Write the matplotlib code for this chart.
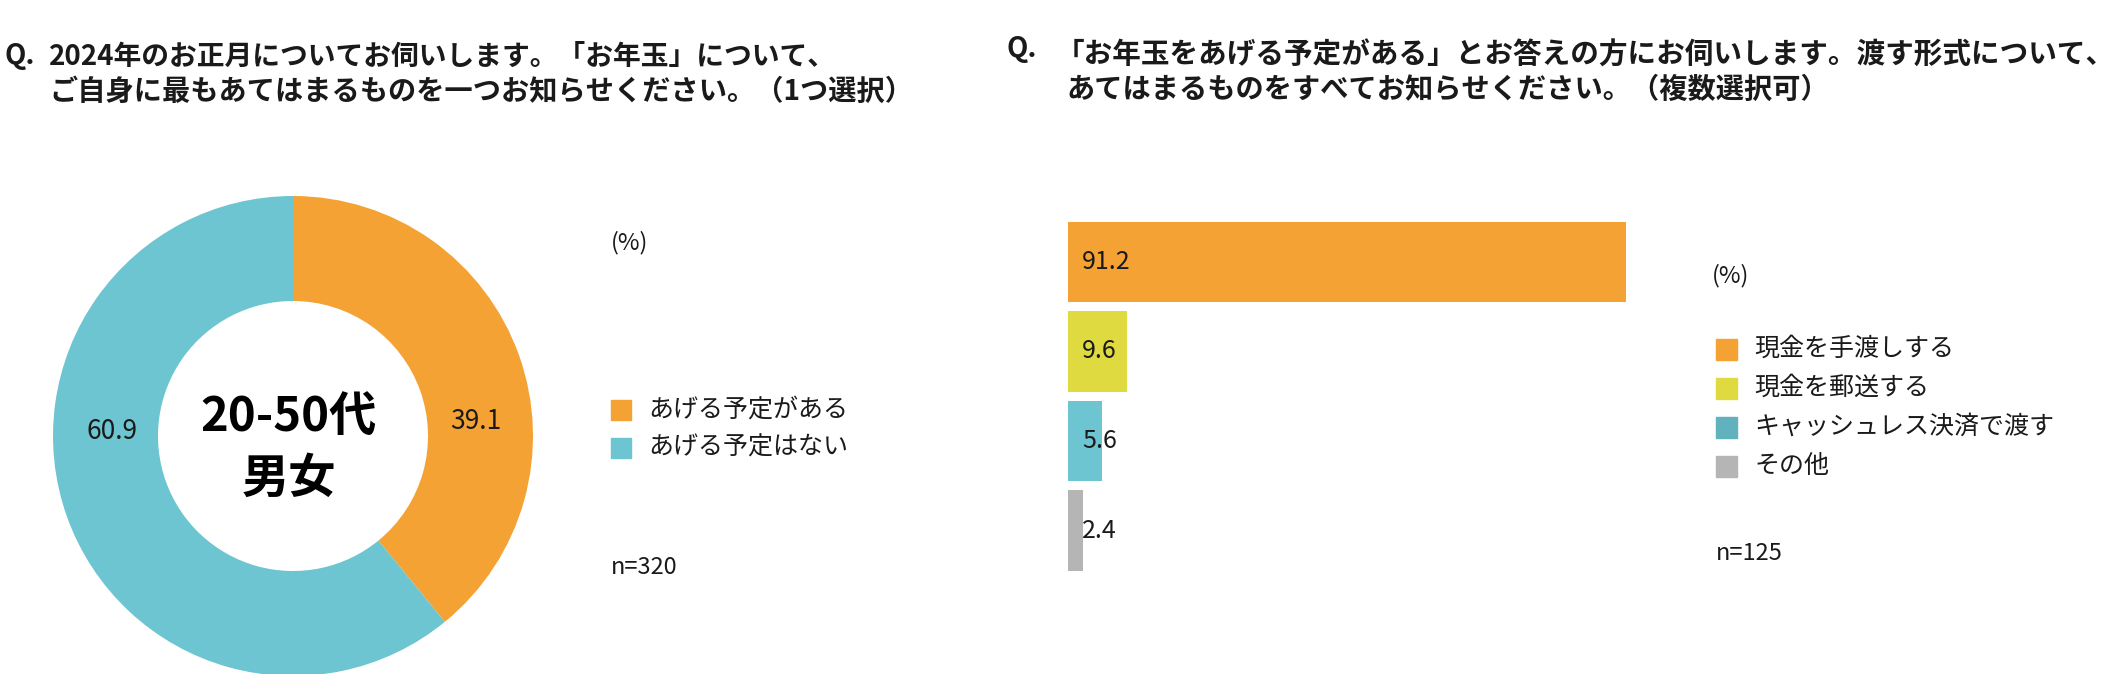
import matplotlib.pyplot as plt
from matplotlib.patches import Rectangle

plt.rcParams['font.family'] = ['Noto Sans CJK JP', 'DejaVu Sans']
TXT = '#1a1a1a'

# ---- data ----
donut_labels = ['あげる予定がある', 'あげる予定はない']
donut_values = [39.1, 60.9]
donut_colors = ['#f4a233', '#6cc5d0']
n_left = 'n=320'

bar_labels = ['現金を手渡しする', '現金を郵送する', 'キャッシュレス決済で渡す', 'その他']
bar_values = [91.2, 9.6, 5.6, 2.4]
bar_colors = ['#f4a233', '#dfda3f', '#6cc5d0', '#b5b5b5']
bar_legend_colors = ['#f4a233', '#dfda3f', '#62b2bd', '#b5b5b5']
n_right = 'n=125'

title_left = ['2024年のお正月についてお伺いします。「お年玉」について、',
              'ご自身に最もあてはまるものを一つお知らせください。（1つ選択）']
title_right = ['「お年玉をあげる予定がある」とお答えの方にお伺いします。渡す形式について、',
               'あてはまるものをすべてお知らせください。（複数選択可）']

W, H = 2118, 674
fig = plt.figure(figsize=(W / 100, H / 100), dpi=100)


def fx(px):
    return px / W


def fy(py):
    return 1 - py / H


# ---- titles ----
fig.text(fx(5), fy(56), 'Q.', fontsize=20, fontweight='bold', color=TXT, va='center')
fig.text(fx(49), fy(57), title_left[0], fontsize=20, fontweight='bold', color=TXT, va='center')
fig.text(fx(49), fy(92), title_left[1], fontsize=20.3, fontweight='bold', color=TXT, va='center')
fig.text(fx(1007), fy(49), 'Q.', fontsize=20, fontweight='bold', color=TXT, va='center')
fig.text(fx(1056), fy(55), title_right[0], fontsize=20.6, fontweight='bold', color=TXT, va='center')
fig.text(fx(1066), fy(90), title_right[1], fontsize=20.3, fontweight='bold', color=TXT, va='center')

# ---- donut ----
cx, cy, R = 293, 436, 240
ax1 = fig.add_axes([fx(cx - R), fy(cy + R), 2 * R / W, 2 * R / H])
ax1.pie(donut_values, colors=donut_colors, startangle=90, counterclock=False,
        radius=1, wedgeprops=dict(width=0.4375, linewidth=0))
ax1.set_xlim(-1, 1)
ax1.set_ylim(-1, 1)
ax1.set_aspect('equal')
ax1.axis('off')
ax1.text(0.76, 0.06, f'{donut_values[0]:.1f}', fontsize=19, color=TXT, ha='center', va='center')
ax1.text(-0.755, 0.02, f'{donut_values[1]:.1f}', fontsize=19, color=TXT, ha='center', va='center')
ax1.text(-0.017, 0.075, '20-50代', fontsize=34, fontweight='bold', color='black', ha='center', va='center')
ax1.text(-0.017, -0.18, '男女', fontsize=34, fontweight='bold', color='black', ha='center', va='center')

fig.text(fx(611), fy(243), '(%)', fontsize=17, color=TXT, va='center')
for i, (lab, col) in enumerate(zip(donut_labels, donut_colors)):
    yc = 410 + i * 38
    fig.add_artist(Rectangle((fx(611), fy(yc + 10)), 20 / W, 20 / H, color=col,
                             transform=fig.transFigure))
    fig.text(fx(648), fy(yc), lab, fontsize=18, color=TXT, va='center')
fig.text(fx(611), fy(567), n_left, fontsize=17, color=TXT, va='center')

# ---- bars ----
pitch = 89.5
top = 262 - pitch / 2
ax2 = fig.add_axes([fx(1068), fy(top + 4 * pitch), 612 / W, 4 * pitch / H])
ypos = list(range(len(bar_values)))
ax2.barh(ypos, bar_values, height=0.9, color=bar_colors, linewidth=0)
ax2.set_xlim(0, 100)
ax2.set_ylim(3.5, -0.5)
ax2.axis('off')
for y, v in zip(ypos, bar_values):
    ax2.annotate(f'{v:.1f}', (0, y), xytext=(14, 0), textcoords='offset pixels',
                 fontsize=18, color=TXT, va='center', ha='left')

fig.text(fx(1712), fy(276), '(%)', fontsize=17, color=TXT, va='center')
for i, (lab, col) in enumerate(zip(bar_labels, bar_legend_colors)):
    yc = 349 + i * 39
    fig.add_artist(Rectangle((fx(1716), fy(yc + 10.5)), 21 / W, 21 / H, color=col,
                             transform=fig.transFigure))
    fig.text(fx(1754), fy(yc), lab, fontsize=18, color=TXT, va='center')
fig.text(fx(1716), fy(553), n_right, fontsize=17, color=TXT, va='center')

fig.savefig('out.png', dpi=100)
